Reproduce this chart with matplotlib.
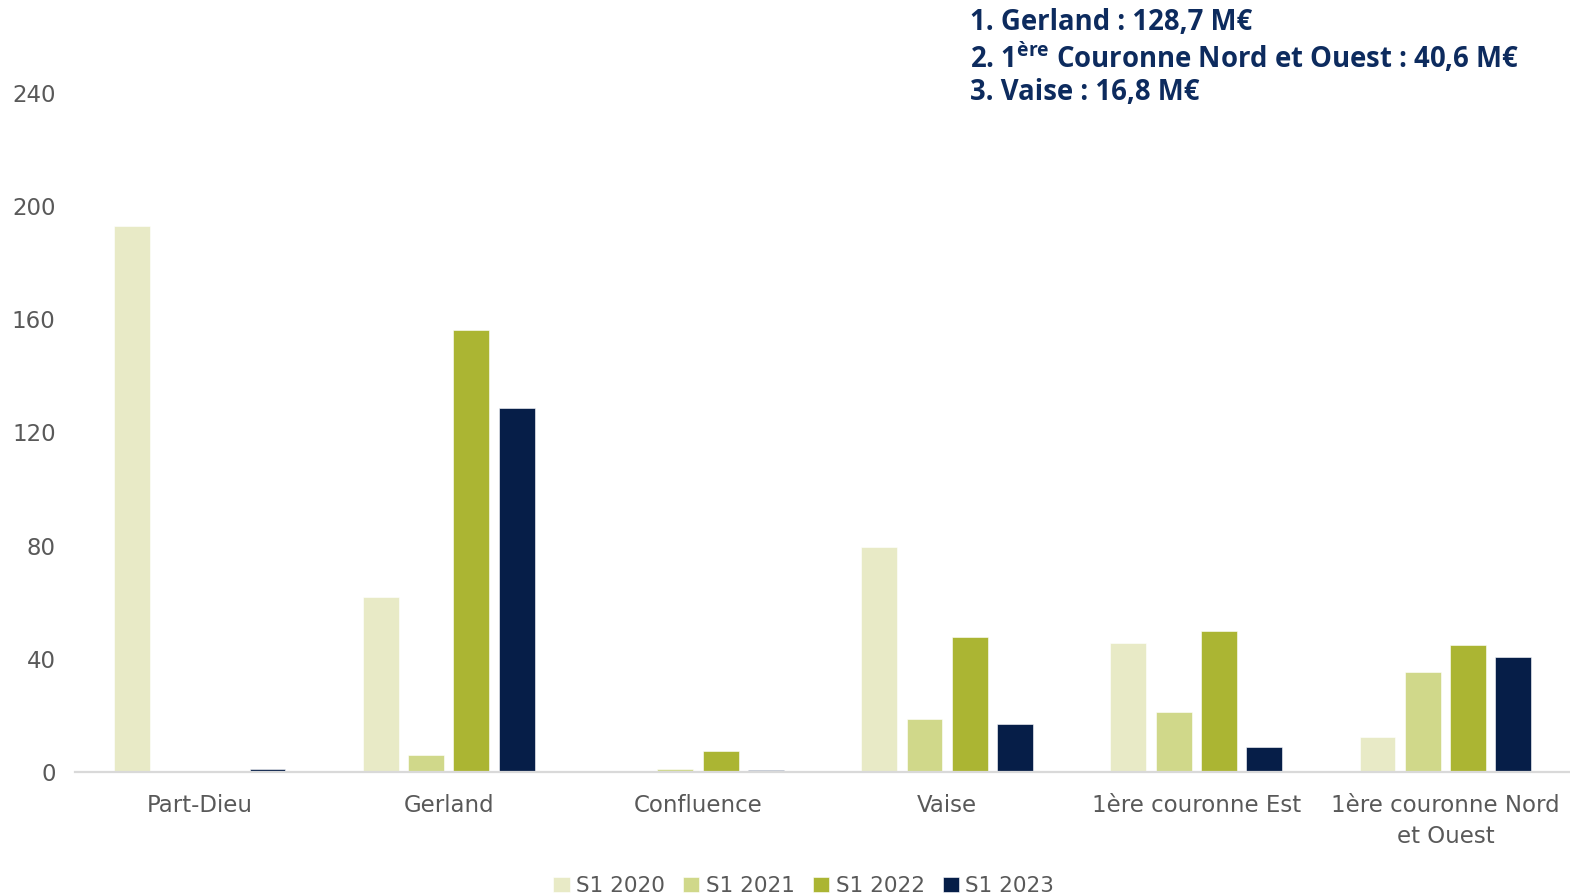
import numpy as np
import matplotlib
matplotlib.use("Agg")
import matplotlib.pyplot as plt

# Investment volumes by sector (M€), first half of each year
sectors = ["Part-Dieu", "Gerland", "Confluence", "Vaise",
           "1ère couronne Est", "1ère couronne Nord\net Ouest"]
series_labels = ["S1 2020", "S1 2021", "S1 2022", "S1 2023"]
s1_2020 = [193.0, 62.0, 0.0, 79.5, 45.6, 12.4]
s1_2021 = [0.0, 6.0, 1.0, 18.7, 21.2, 35.2]
s1_2022 = [0.0, 156.2, 7.4, 47.7, 49.8, 44.9]
s1_2023 = [1.0, 128.7, 0.7, 16.8, 8.8, 40.6]
yticks = [0, 40, 80, 120, 160, 200, 240]

colors = ["#E8EAC6", "#D0D88A", "#ABB533", "#061E48"]
series = [s1_2020, s1_2021, s1_2022, s1_2023]

plt.rcParams["mathtext.fontset"] = "custom"
plt.rcParams["mathtext.rm"] = "Open Sans:bold"
plt.rcParams["mathtext.bf"] = "Open Sans:bold"

fig = plt.figure(figsize=(15.7, 8.94), dpi=100)
ax = fig.add_axes([0.0478, 0.1365, 0.9522, 0.7595])

x = np.arange(len(sectors))
step = 0.1816
width = 0.144
for i, (vals, col, lab) in enumerate(zip(series, colors, series_labels)):
    ax.bar(x + (i - 1.5) * step, vals, width=width, color=col, label=lab,
           edgecolor="white", linewidth=0.4, zorder=2)

ax.set_xlim(-0.5, len(sectors) - 0.5)
ax.set_ylim(0, 240)
ax.set_yticks(yticks)
ax.set_yticklabels([str(v) for v in yticks])
ax.set_xticks(x)
ax.set_xticklabels(sectors, linespacing=1.45)

for s in ["top", "right", "left"]:
    ax.spines[s].set_visible(False)
ax.spines["bottom"].set_color("#D9D9D9")
ax.spines["bottom"].set_linewidth(1.6)
ax.spines["bottom"].set_zorder(3)
ax.tick_params(axis="both", length=0, labelcolor="#595959", labelsize=16.5)
ax.tick_params(axis="x", pad=16)
ax.tick_params(axis="y", pad=14)
for t in ax.get_xticklabels() + ax.get_yticklabels():
    t.set_family("DejaVu Sans")

leg = fig.legend(loc="center", bbox_to_anchor=(0.512, 0.009), ncol=4,
                 frameon=False, handlelength=0.75, handleheight=0.75,
                 handletextpad=0.3, columnspacing=0.85,
                 prop={"family": "DejaVu Sans", "size": 15.5})
for t in leg.get_texts():
    t.set_color("#595959")

navy = "#0D2B5E"
fs = 19.8
fig.text(0.6178, 0.975, "1. Gerland : 128,7 M€", color=navy, fontsize=fs,
         family="Open Sans", weight="bold", va="center")
fig.text(0.6178, 0.936, r"2. 1$^{\mathrm{ère}}$ Couronne Nord et Ouest : 40,6 M€",
         color=navy, fontsize=fs, family="Open Sans", weight="bold", va="center")
fig.text(0.6178, 0.897, "3. Vaise : 16,8 M€", color=navy, fontsize=fs,
         family="Open Sans", weight="bold", va="center")

fig.savefig("out.png", dpi=100)
